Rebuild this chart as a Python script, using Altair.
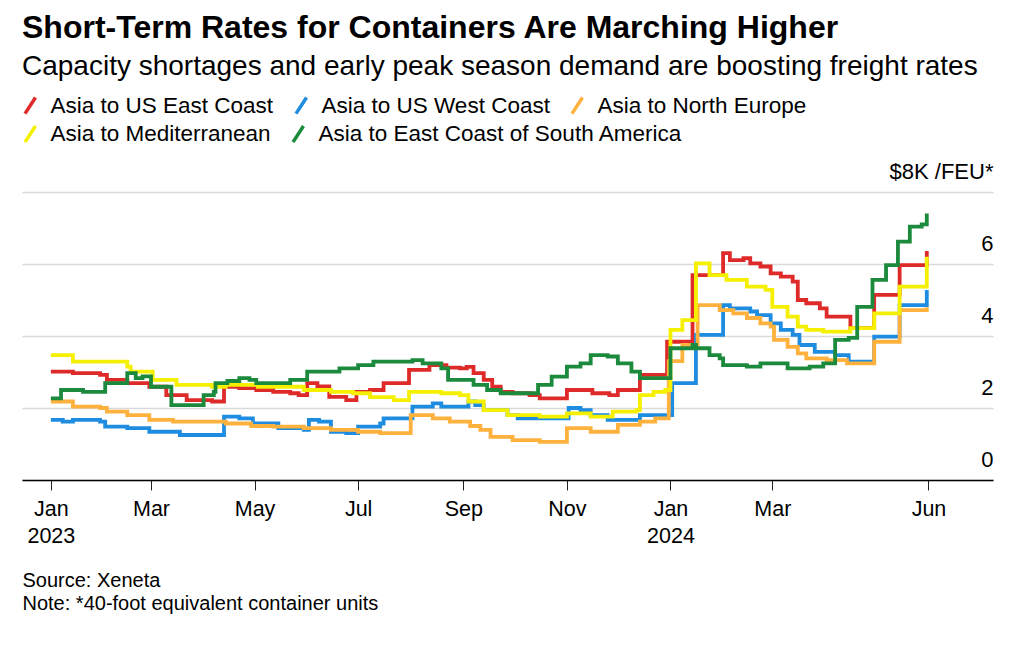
import altair as alt
import pandas as pd

routes = ["Asia to US East Coast", "Asia to US West Coast", "Asia to North Europe",
          "Asia to Mediterranean", "Asia to East Coast of South America"]
colors = ["#df2a2a", "#1e8ce0", "#ffb13d", "#f5ef00", "#1b8a3c"]

east_dates = ["2023-01-01", "2023-01-14", "2023-01-30", "2023-02-03", "2023-02-15", "2023-02-28",
              "2023-03-10", "2023-03-22", "2023-04-06", "2023-04-13", "2023-04-22", "2023-05-02",
              "2023-05-12", "2023-05-22", "2023-05-27", "2023-06-01", "2023-06-07", "2023-06-14",
              "2023-06-24", "2023-06-30", "2023-07-08", "2023-07-16", "2023-07-31", "2023-08-12",
              "2023-08-22", "2023-08-30", "2023-09-03", "2023-09-07", "2023-09-13", "2023-09-18",
              "2023-09-23", "2023-09-30", "2023-10-10", "2023-10-16", "2023-11-01", "2023-11-16",
              "2023-11-26", "2023-12-01", "2023-12-14", "2023-12-30", "2024-01-14", "2024-02-01",
              "2024-02-05", "2024-02-13", "2024-02-17", "2024-02-23", "2024-02-29", "2024-03-06",
              "2024-03-13", "2024-03-16", "2024-03-21", "2024-03-29", "2024-04-02", "2024-04-16",
              "2024-04-30", "2024-05-15", "2024-05-31"]
east_vals = [3.01, 2.97, 2.92, 2.78, 2.69, 2.59, 2.36, 2.22, 2.18, 2.59, 2.55, 2.50,
             2.45, 2.41, 2.36, 2.69, 2.60, 2.31, 2.22, 2.45, 2.50, 2.69, 3.06, 3.19,
             3.12, 3.10, 3.14, 2.97, 2.78, 2.59, 2.45, 2.41, 2.36, 2.27, 2.50, 2.41,
             2.36, 2.50, 2.92, 3.84, 5.69, 6.30, 6.11, 6.16, 6.02, 5.93, 5.74, 5.65,
             5.51, 5.00, 4.91, 4.77, 4.54, 4.22, 5.14, 5.97, 6.36]

west_dates = ["2023-01-01", "2023-01-08", "2023-01-14", "2023-01-30", "2023-02-02", "2023-02-15",
              "2023-02-28", "2023-03-18", "2023-04-13", "2023-04-22", "2023-04-30", "2023-05-15",
              "2023-05-30", "2023-06-02", "2023-06-08", "2023-06-15", "2023-06-24", "2023-07-01",
              "2023-07-14", "2023-07-16", "2023-08-02", "2023-08-14", "2023-08-19", "2023-09-04",
              "2023-09-08", "2023-09-13", "2023-09-27", "2023-10-03", "2023-11-02", "2023-11-09",
              "2023-11-15", "2023-11-25", "2023-12-14", "2024-01-02", "2024-01-16", "2024-02-01",
              "2024-02-05", "2024-02-17", "2024-02-21", "2024-02-29", "2024-03-06", "2024-03-13",
              "2024-03-17", "2024-03-26", "2024-04-07", "2024-04-15", "2024-04-30", "2024-05-15",
              "2024-05-31"]
west_vals = [1.67, 1.62, 1.67, 1.62, 1.48, 1.44, 1.34, 1.25, 1.76, 1.71, 1.57, 1.44,
             1.39, 1.67, 1.62, 1.34, 1.30, 1.48, 1.57, 1.71, 2.04, 2.13, 2.04, 2.18,
             2.08, 1.94, 1.80, 1.71, 2.00, 1.94, 1.80, 1.67, 1.80, 2.69, 4.03, 4.86,
             4.77, 4.68, 4.58, 4.35, 4.17, 4.03, 3.75, 3.56, 3.47, 3.29, 3.98, 4.86,
             5.28]

neur_dates = ["2023-01-01", "2023-01-14", "2023-01-30", "2023-02-03", "2023-02-15", "2023-02-28",
              "2023-03-14", "2023-04-14", "2023-04-29", "2023-05-12", "2023-05-30", "2023-06-15",
              "2023-07-01", "2023-07-14", "2023-08-01", "2023-08-14", "2023-08-24", "2023-09-05",
              "2023-09-11", "2023-09-17", "2023-09-30", "2023-10-16", "2023-11-01", "2023-11-15",
              "2023-12-01", "2023-12-14", "2023-12-23", "2023-12-31", "2024-01-08", "2024-01-17",
              "2024-01-30", "2024-02-07", "2024-02-15", "2024-02-23", "2024-02-29", "2024-03-02",
              "2024-03-10", "2024-03-16", "2024-03-21", "2024-04-02", "2024-04-14", "2024-04-30",
              "2024-05-15", "2024-05-31"]
neur_vals = [2.18, 2.04, 2.00, 1.90, 1.80, 1.67, 1.62, 1.57, 1.50, 1.48, 1.44, 1.39,
             1.34, 1.30, 1.80, 1.71, 1.62, 1.50, 1.39, 1.20, 1.11, 1.06, 1.44, 1.34,
             1.53, 1.62, 1.71, 3.30, 3.75, 4.86, 4.72, 4.63, 4.50, 4.35, 4.26, 3.89,
             3.70, 3.52, 3.38, 3.33, 3.24, 3.84, 4.72, 4.80]

med_dates = ["2023-01-01", "2023-01-14", "2023-02-15", "2023-02-17", "2023-03-02", "2023-03-16",
             "2023-04-06", "2023-04-14", "2023-05-03", "2023-05-30", "2023-06-15", "2023-06-28",
             "2023-07-08", "2023-07-22", "2023-07-31", "2023-08-19", "2023-08-30", "2023-09-04",
             "2023-09-13", "2023-09-27", "2023-10-16", "2023-11-01", "2023-11-15", "2023-11-28",
             "2023-12-12", "2023-12-14", "2023-12-22", "2023-12-29", "2024-01-01", "2024-01-08",
             "2024-01-16", "2024-01-24", "2024-02-03", "2024-02-15", "2024-02-26", "2024-03-01",
             "2024-03-10", "2024-03-16", "2024-03-21", "2024-03-31", "2024-04-16", "2024-04-30",
             "2024-05-15", "2024-05-31"]
med_vals = [3.47, 3.29, 3.15, 3.01, 2.78, 2.64, 2.59, 2.64, 2.59, 2.50, 2.45, 2.41,
            2.30, 2.22, 2.45, 2.41, 2.36, 2.18, 1.94, 1.80, 1.76, 1.85, 1.76, 1.90,
            1.94, 2.36, 2.45, 2.50, 4.17, 4.44, 6.02, 5.69, 5.56, 5.37, 5.28, 4.81,
            4.54, 4.26, 4.17, 4.12, 4.22, 4.63, 5.37, 6.20]

sam_dates = ["2023-01-01", "2023-01-07", "2023-01-20", "2023-02-02", "2023-02-15", "2023-02-20",
             "2023-02-24", "2023-03-01", "2023-03-13", "2023-04-01", "2023-04-07", "2023-04-08",
             "2023-04-15", "2023-04-22", "2023-04-28", "2023-05-02", "2023-05-22", "2023-06-01",
             "2023-06-20", "2023-07-01", "2023-07-10", "2023-08-02", "2023-08-08", "2023-08-19",
             "2023-08-23", "2023-09-07", "2023-09-15", "2023-09-23", "2023-10-15", "2023-10-23",
             "2023-11-01", "2023-11-09", "2023-11-15", "2023-11-25", "2023-12-01", "2023-12-09",
             "2023-12-14", "2024-01-01", "2024-01-14", "2024-01-16", "2024-01-24", "2024-01-30",
             "2024-02-01", "2024-02-15", "2024-02-23", "2024-03-10", "2024-03-23", "2024-03-31",
             "2024-04-07", "2024-04-15", "2024-04-20", "2024-04-29", "2024-05-07", "2024-05-14",
             "2024-05-21", "2024-05-28", "2024-05-31"]
sam_vals = [2.27, 2.50, 2.45, 2.69, 2.97, 2.83, 2.88, 2.59, 2.08, 2.36, 2.45, 2.69,
            2.75, 2.83, 2.78, 2.69, 2.78, 3.01, 3.10, 3.19, 3.29, 3.33, 3.24, 3.10,
            2.78, 2.64, 2.50, 2.41, 2.64, 2.87, 3.15, 3.24, 3.47, 3.43, 3.24, 3.01,
            2.83, 3.66, 3.75, 3.66, 3.47, 3.38, 3.19, 3.15, 3.24, 3.10, 3.15, 3.24,
            3.89, 3.95, 4.81, 5.56, 5.97, 6.62, 7.04, 7.10, 7.40]

y_ticks = [0, 2, 4, 6, 8]
x_tick_dates = [(2023, 1), (2023, 3), (2023, 5), (2023, 7), (2023, 9), (2023, 11),
                (2024, 1), (2024, 3), (2024, 6)]

series = [(routes[0], east_dates, east_vals), (routes[1], west_dates, west_vals),
          (routes[2], neur_dates, neur_vals), (routes[3], med_dates, med_vals),
          (routes[4], sam_dates, sam_vals)]
frames = []
for name, d, v in series:
    frames.append(pd.DataFrame({"date": d, "value": v, "route": name}))
df = pd.concat(frames, ignore_index=True)

FONT = "Liberation Sans"

x_values = [alt.DateTime(year=y, month=m, date=1, utc=True) for y, m in x_tick_dates]

x_enc = alt.X("date:T",
              scale=alt.Scale(type="utc", domain=[alt.DateTime(year=2022, month=12, date=15, utc=True),
                                                  alt.DateTime(year=2024, month=7, date=9, utc=True)]),
              axis=alt.Axis(values=x_values,
                            labelExpr="[utcFormat(datum.value, '%b'), utcFormat(datum.value, '%m') == '01' ? utcFormat(datum.value, '%Y') : '']",
                            labelFont=FONT, labelFontSize=21.5, labelColor="#000",
                            labelLineHeight=27, labelPadding=8,
                            tickColor="#222", tickSize=10, tickWidth=1,
                            domainColor="#000", domainWidth=1.5, grid=False,
                            title=["Source: Xeneta", "Note: *40-foot equivalent container units"],
                            titleAnchor="start", titleAlign="left", titleBaseline="top",
                            titleX=0, titleY=90, titleFont=FONT, titleFontSize=20,
                            titleFontWeight="normal", titleColor="#000", titleLineHeight=23))
y_enc = alt.Y("value:Q", scale=alt.Scale(domain=[0, 8]),
              axis=alt.Axis(orient="right", values=y_ticks,
                            labelExpr="datum.value == 8 ? '$8K /FEU*' : datum.label",
                            labelAlign="right", labelBaseline="alphabetic", labelOffset=-14,
                            labelPadding=0, ticks=False, tickSize=0, domain=False,
                            grid=True, gridColor="#d9d9d9", gridWidth=1.5,
                            labelFont=FONT, labelFontSize=22, labelColor="#000", title=None))


def legend_at(y):
    return alt.Legend(orient="none", legendX=-3, legendY=y, direction="horizontal",
                      title=None, padding=0, labelLimit=600,
                      symbolType="M-0.65,1L0.65,-1", symbolStrokeWidth=3.5,
                      symbolSize=260, labelFont=FONT, labelFontSize=22.5,
                      labelColor="#000", labelOffset=9, columnPadding=15)


base = alt.Chart(df).mark_line(strokeWidth=3.8, interpolate="step-after")

row1 = base.transform_filter(
    alt.FieldOneOfPredicate(field="route", oneOf=routes[:3])
).encode(
    x=x_enc, y=y_enc,
    color=alt.Color("route:N", scale=alt.Scale(domain=routes[:3], range=colors[:3]),
                    legend=legend_at(-98)),
)
row2 = base.transform_filter(
    alt.FieldOneOfPredicate(field="route", oneOf=routes[3:])
).encode(
    x=x_enc, y=y_enc,
    stroke=alt.Stroke("route:N", scale=alt.Scale(domain=routes[3:], range=colors[3:]),
                      legend=legend_at(-69.5)),
)

chart = alt.layer(row1, row2).resolve_scale(color="independent", stroke="independent").properties(
    width=971,
    height=288,
    title=alt.TitleParams(
        text="Short-Term Rates for Containers Are Marching Higher",
        subtitle="Capacity shortages and early peak season demand are boosting freight rates",
        anchor="start", frame="group", font=FONT, fontSize=32, fontWeight="bold", color="#000",
        subtitleFont=FONT, subtitleFontSize=28, subtitleColor="#000", subtitlePadding=8,
        offset=12),
    autosize=alt.AutoSizeParams(type="none"),
    padding={"left": 14, "top": 184, "right": 23, "bottom": 157},
).configure_view(stroke=None)

chart.save("out.html", embed_options={"renderer": "svg", "actions": False})
